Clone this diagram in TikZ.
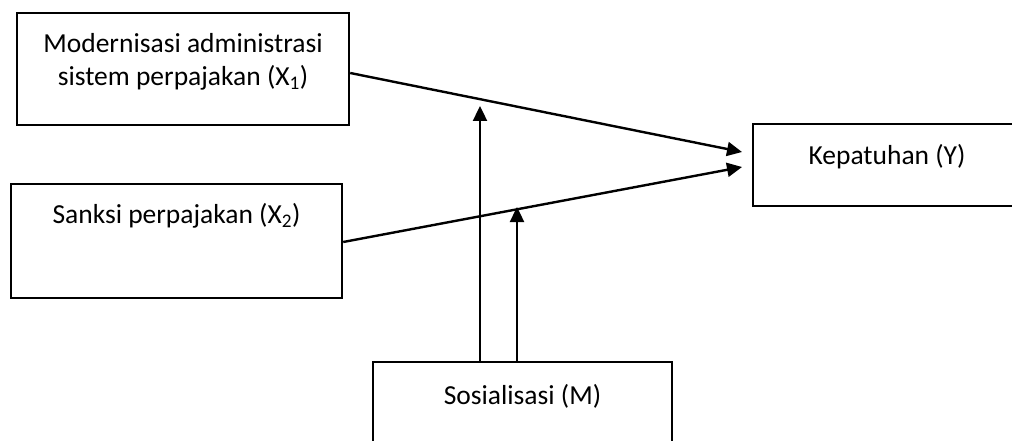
\documentclass[tikz,border=0pt]{standalone}
\usepackage{fontspec}
\setmainfont{Carlito}
\usetikzlibrary{arrows.meta,calc}
\begin{document}
\begin{tikzpicture}[x=1pt,y=-1pt,
  box/.style={draw=black,line width=2.4pt,rectangle,inner sep=0pt},
  txt/.style={font=\fontsize{27.5}{33}\selectfont,align=center,inner sep=0pt,text=black},
  arr/.style={line width=2.4pt,-{Triangle[length=15pt,width=14pt]}}]
\useasboundingbox (0,0) rectangle (1012,441);
\fill[white] (0,0) rectangle (1012,441);
% boxes
\node[box,minimum width=332pt,minimum height=112pt] (x1) at (183,69) {};
\node[box,minimum width=331pt,minimum height=114pt] (x2) at (176.5,241) {};
\node[box,minimum width=280pt,minimum height=82pt,anchor=west] (y) at (752,165) {};
\node[box,minimum width=299pt,minimum height=100pt,anchor=north] (m) at (522.5,361) {};
% texts
\node[txt] (t1) at (183,62) {Modernisasi administrasi\\sistem perpajakan (X\textsubscript{1})};
\node[txt] (t2) at (176.5,216) {Sanksi perpajakan (X\textsubscript{2})};
\node[txt] (ty) at (887,157) {Kepatuhan (Y)};
\node[txt] (tm) at (522.5,396) {Sosialisasi (M)};
% connectors
\coordinate (e1) at ($(y.west)+(-10,-13)$);
\coordinate (e2) at ($(y.west)+(-10,2)$);
\draw[arr] ($(x1.east)+(0,4)$) -- (e1);
\draw[arr] ($(x2.east)+(0,1)$) -- (e2);
\coordinate (m1) at (480,106);
\coordinate (m2) at (517,207);
\draw[arr] (m.north -| m1) -- (m1);
\draw[arr] (m.north -| m2) -- (m2);
\end{tikzpicture}
\end{document}
